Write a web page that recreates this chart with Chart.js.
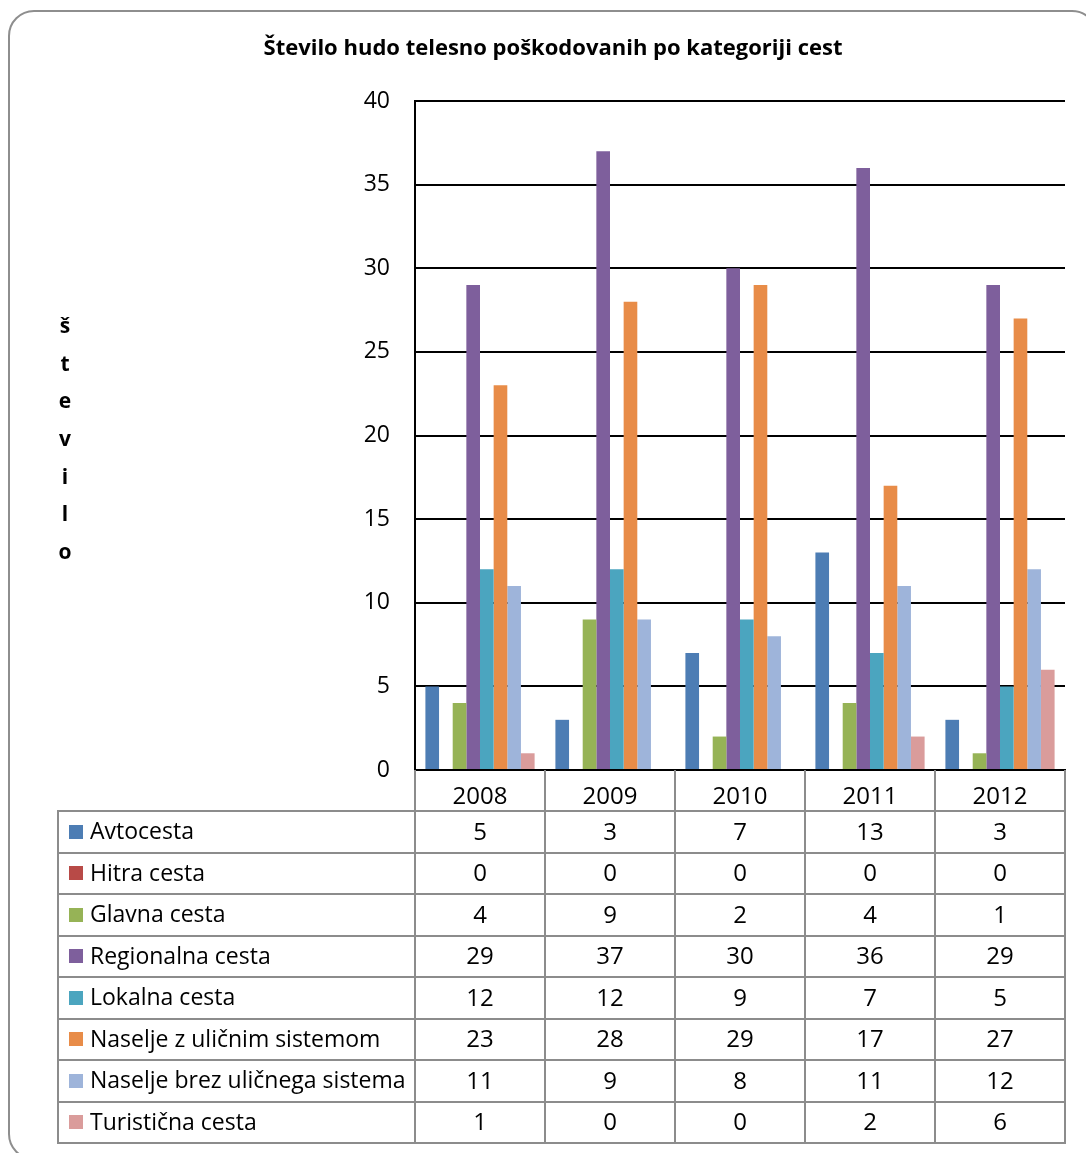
<!DOCTYPE html>
<html>
<head>
<meta charset="utf-8">
<script src="https://cdn.jsdelivr.net/npm/chart.js@4/dist/chart.umd.min.js"></script>
<style>
  html, body { margin:0; padding:0; background:#fff; overflow:hidden; }
  #wrap { position:relative; width:1086px; height:1153px; overflow:hidden; }
  #frame { position:absolute; left:8px; top:10px; width:1090px; height:1150px; border:2px solid #8e8e8e; border-radius:26px; box-sizing:border-box; }
  canvas { position:absolute; left:0; top:0; }
</style>
</head>
<body>
<div id="wrap">
  <div id="frame"></div>
  <canvas id="c" width="1086" height="1153"></canvas>
</div>
<script>
const years = ['2008', '2009', '2010', '2011', '2012'];
const seriesNames = ['Avtocesta', 'Hitra cesta', 'Glavna cesta', 'Regionalna cesta', 'Lokalna cesta', 'Naselje z uličnim sistemom', 'Naselje brez uličnega sistema', 'Turistična cesta'];
const avtocesta = [5, 3, 7, 13, 3];
const hitraCesta = [0, 0, 0, 0, 0];
const glavnaCesta = [4, 9, 2, 4, 1];
const regionalnaCesta = [29, 37, 30, 36, 29];
const lokalnaCesta = [12, 12, 9, 7, 5];
const naseljeZ = [23, 28, 29, 17, 27];
const naseljeBrez = [11, 9, 8, 11, 12];
const turisticnaCesta = [1, 0, 0, 2, 6];
const seriesValues = [avtocesta, hitraCesta, glavnaCesta, regionalnaCesta, lokalnaCesta, naseljeZ, naseljeBrez, turisticnaCesta];
const colors = ['#4D7DB4', '#B84A47', '#96B356', '#7E5F9C', '#4BA5BF', '#E88C48', '#9EB4DA', '#DA9C9B'];
const yTicks = [0, 5, 10, 15, 20, 25, 30, 35, 40];
const titleText = 'Število hudo telesno poškodovanih po kategoriji cest';
const yAxisTitle = 'število';

const FONT = '"Open Sans", "Liberation Sans", sans-serif';

const tablePlugin = {
  id: 'dataTable',
  afterDraw(chart) {
    const ctx = chart.ctx;
    const x = chart.scales.x;
    const area = chart.chartArea;
    const step = x.getPixelForValue(1) - x.getPixelForValue(0);
    const headerBottom = area.bottom + 41;
    const rowH = 41.5;
    const tableLeft = 58;
    const colLeft = x.getPixelForValue(0) - step / 2;
    const colRight = x.getPixelForValue(years.length - 1) + step / 2;
    const nRows = seriesNames.length;
    const tableBottom = headerBottom + nRows * rowH;
    ctx.save();
    ctx.strokeStyle = '#8c8c8c';
    ctx.lineWidth = 2;
    ctx.beginPath();
    for (let i = 0; i <= years.length; i++) {
      const px = Math.round(colLeft + i * step);
      ctx.moveTo(px, area.bottom);
      ctx.lineTo(px, tableBottom);
    }
    ctx.moveTo(tableLeft, headerBottom);
    ctx.lineTo(tableLeft, tableBottom);
    for (let r = 0; r <= nRows; r++) {
      const py = Math.round(headerBottom + r * rowH);
      ctx.moveTo(tableLeft - 1, py);
      ctx.lineTo(colRight + 1, py);
    }
    ctx.stroke();
    ctx.fillStyle = '#000';
    ctx.textBaseline = 'middle';
    for (let r = 0; r < nRows; r++) {
      const cy = headerBottom + r * rowH + rowH / 2;
      ctx.fillStyle = colors[r];
      ctx.fillRect(69, Math.round(cy - 7), 14, 14);
      ctx.fillStyle = '#000';
      ctx.textAlign = 'left';
      ctx.font = '23px ' + FONT;
      ctx.fillText(seriesNames[r], 90, cy + 1);
      ctx.textAlign = 'center';
      ctx.font = '24px ' + FONT;
      for (let i = 0; i < years.length; i++) {
        ctx.fillText(String(seriesValues[r][i]), x.getPixelForValue(i), cy + 1);
      }
    }
    ctx.font = 'bold 21px ' + FONT;
    ctx.textAlign = 'center';
    const letters = Array.from(yAxisTitle);
    letters.forEach((ch, k) => {
      ctx.fillText(ch, 65, 327 + k * 37.7);
    });
    ctx.restore();
  }
};

const datasets = seriesNames.map((name, i) => ({
  label: name,
  data: seriesValues[i],
  backgroundColor: colors[i],
  borderWidth: 0,
  barPercentage: 1.0,
  categoryPercentage: 0.84
}));

new Chart(document.getElementById('c'), {
  type: 'bar',
  data: { labels: years, datasets },
  options: {
    responsive: false,
    animation: false,
    layout: { padding: { left: 41, right: 21, top: 0, bottom: 0 } },
    plugins: {
      legend: { display: false },
      tooltip: { enabled: false },
      title: {
        display: true,
        text: titleText,
        color: '#000',
        font: { family: FONT, size: 22, weight: 'bold', lineHeight: 1.2 },
        padding: { top: 36, bottom: 38.6 }
      }
    },
    scales: {
      x: {
        grid: { display: false, drawTicks: false },
        border: { display: true, color: '#000', width: 2 },
        ticks: { color: '#000', font: { family: FONT, size: 24 }, padding: 13, maxRotation: 0 },
        afterFit(s) { s.height = 383; }
      },
      y: {
        min: 0, max: 40,
        afterBuildTicks(s) { s.ticks = yTicks.map(v => ({ value: v })); },
        grid: { color: '#000', lineWidth: 2, drawTicks: false },
        border: { display: true, color: '#000', width: 2 },
        ticks: { color: '#000', font: { family: FONT, size: 23 }, padding: 25 },
        afterFit(s) { s.width = 374; }
      }
    }
  },
  plugins: [tablePlugin]
});
</script>
</body>
</html>
